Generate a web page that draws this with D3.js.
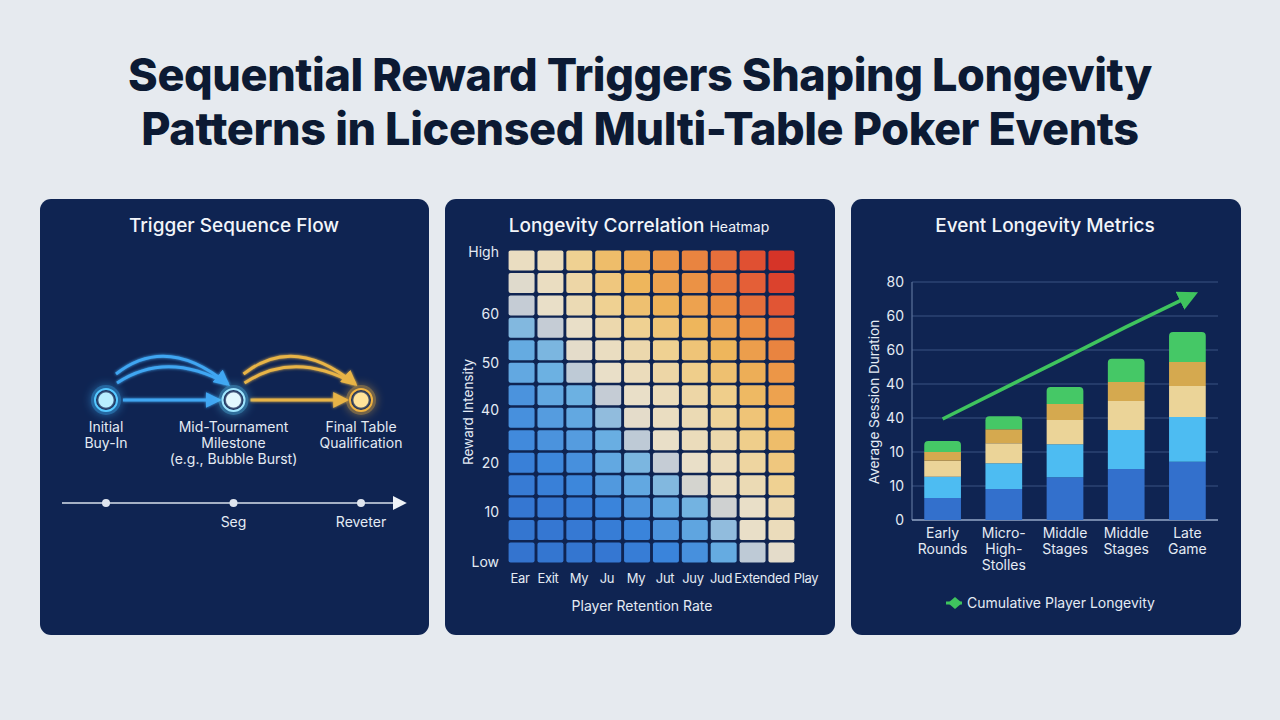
<!DOCTYPE html>
<html><head><meta charset="utf-8">
<script src="https://cdn.jsdelivr.net/npm/d3@7/dist/d3.min.js"></script>
<style>
html,body{margin:0;padding:0;background:#e6eaef;}
svg{display:block;font-family:Inter,"Noto Sans",sans-serif;}
</style></head><body>
<svg id="c" width="1280" height="720"></svg>
<script>
// ---------- DATA ----------
const titleLines = ["Sequential Reward Triggers Shaping Longevity", "Patterns in Licensed Multi-Table Poker Events"];
const panelTitles = ["Trigger Sequence Flow", "Longevity Correlation", "Event Longevity Metrics"];

// Flow panel
const flowSteps = ["Initial Buy-In", "Mid-Tournament Milestone", "Final Table Qualification"];
const flowLabels = [["Initial", "Buy-In"], ["Mid-Tournament", "Milestone", "(e.g., Bubble Burst)"], ["Final Table", "Qualification"]];
const timelineLabels = ["", "Seg", "Reveter"];

// Heatmap
const heatCols = ["Ear", "Exit", "My", "Ju", "My", "Jut", "Juy", "Jud", "Extended", "Play"];
const heatRowsCount = 14;
const heatValues = [
  [55, 56, 62, 68, 73, 78, 82, 86, 92, 98],
  [52, 55, 59, 65, 70, 75, 79, 84, 89, 95],
  [47, 54, 57, 62, 67, 71, 75, 80, 86, 91],
  [38, 47, 54, 58, 62, 66, 70, 75, 80, 86],
  [33, 37, 53, 55, 58, 62, 66, 70, 76, 82],
  [32, 35, 46, 54, 56, 59, 63, 67, 72, 78],
  [25, 32, 35, 47, 54, 56, 59, 63, 69, 75],
  [24, 28, 32, 40, 53, 55, 57, 61, 66, 71],
  [22, 25, 28, 34, 46, 54, 56, 58, 63, 68],
  [18, 21, 24, 32, 37, 47, 54, 56, 60, 65],
  [15, 18, 21, 27, 32, 38, 50, 55, 57, 62],
  [13, 14, 16, 20, 25, 32, 36, 49, 54, 58],
  [12, 13, 14, 16, 20, 25, 31, 40, 54, 56],
  [11, 12, 12, 13, 16, 20, 24, 33, 46, 53]
];
const heatYTickLabels = ["High", "60", "50", "40", "20", "10", "Low"];
const heatYTickLevels = [14, 11.2, 9, 6.85, 4.45, 2.25, 0];
const heatXTitle = "Player Retention Rate";
const heatYTitle = "Reward Intensity";

// Bar chart
const barCategories = [["Early", "Rounds"], ["Micro-", "High-", "Stolles"], ["Middle", "Stages"], ["Middle", "Stages"], ["Late", "Game"]];
const barSeriesNames = ["base", "retained", "engaged", "milestone", "bonus"];
const seriesBase      = [6.5, 9.1, 12.6, 15.0, 17.1];
const seriesRetained  = [6.2, 7.6, 9.7, 11.5, 13.2];
const seriesEngaged   = [4.7, 5.9, 7.1, 8.5, 9.1];
const seriesMilestone = [2.6, 4.1, 4.7, 5.6, 7.1];
const seriesBonus     = [3.2, 3.8, 5.0, 6.8, 8.8];
const trendValues = [29.7, 38.7, 47.7, 56.8, 66.5];
const barTickValues = [0, 10, 20, 30, 40, 50, 60, 70];
const barTickLabels = ["0", "10", "10", "40", "40", "60", "60", "80"];
const barYTitle = "Average Session Duration";
const legendLabel = "Cumulative Player Longevity";

// ---------- DRAW ----------
const svg = d3.select("#c");
const defs = svg.append("defs");
const panelFill = "#0f2452";
const textCol = "#e4ebf4";

// glow filters (user-space regions so flat lines still render)
function makeFilter(id, sd) {
  const f = defs.append("filter").attr("id", id).attr("filterUnits", "userSpaceOnUse")
    .attr("x", 0).attr("y", 0).attr("width", 1280).attr("height", 720);
  f.append("feGaussianBlur").attr("stdDeviation", sd).attr("result", "b");
  const m = f.append("feMerge");
  m.append("feMergeNode").attr("in", "b");
  m.append("feMergeNode").attr("in", "SourceGraphic");
}
makeFilter("glow", 5);
makeFilter("soft", 1.6);

function marker(id, color, size) {
  defs.append("marker").attr("id", id).attr("viewBox", "0 0 10 10").attr("refX", 8).attr("refY", 5)
    .attr("markerWidth", size).attr("markerHeight", size).attr("markerUnits", "userSpaceOnUse").attr("orient", "auto")
    .append("path").attr("d", "M0,0 L10,5 L0,10 Z").attr("fill", color);
}
marker("mBlue", "#3fa6f2", 16);
marker("mGold", "#e8b446", 16);
marker("mWhite", "#eef2f7", 14);
marker("mGreen", "#3fc45e", 20);

// title
svg.append("g").selectAll("text").data(titleLines).join("text")
  .attr("x", 640).attr("y", (d, i) => 91 + i * 54)
  .attr("text-anchor", "middle").attr("font-size", 45).attr("font-weight", 800)
  .attr("fill", "#0c1a33").attr("letter-spacing", -0.4).text(d => d);

// panels
const panels = [{x: 40, y: 199, w: 389, h: 436}, {x: 445, y: 199, w: 390, h: 436}, {x: 851, y: 199, w: 390, h: 436}];
svg.append("g").selectAll("rect").data(panels).join("rect")
  .attr("x", d => d.x).attr("y", d => d.y).attr("width", d => d.w).attr("height", d => d.h)
  .attr("rx", 11).attr("fill", panelFill);

// panel titles
svg.append("text").attr("x", 234).attr("y", 232).attr("text-anchor", "middle").attr("font-size", 19).attr("font-weight", 500).attr("fill", "#f2f5fa").text(panelTitles[0]);
const ht = svg.append("text").attr("x", 639).attr("y", 232).attr("text-anchor", "middle").attr("fill", "#f2f5fa");
ht.append("tspan").attr("font-size", 19).attr("font-weight", 500).text(panelTitles[1] + " ");
ht.append("tspan").attr("font-size", 14).text("Heatmap");
svg.append("text").attr("x", 1045).attr("y", 232).attr("text-anchor", "middle").attr("font-size", 19).attr("font-weight", 500).attr("fill", "#f2f5fa").text(panelTitles[2]);

// ---------- Flow panel ----------
const fx = d3.scalePoint().domain(flowSteps).range([106, 361]);
const nodeY = 400;
const fg = svg.append("g");
const nodeStyles = [
  {ring: "#54c8ff", fill: "#b8efff", glow: "#3fb8ff"},
  {ring: "#9fe6ff", fill: "#e3f9ff", glow: "#59c9f5"},
  {ring: "#f0b340", fill: "#ffe39a", glow: "#f0b340"}
];
const straight = [
  {a: 0, b: 1, col: "#3fa6f2", m: "mBlue"},
  {a: 1, b: 2, col: "#e8b446", m: "mGold"}
];
straight.forEach(s => {
  fg.append("line").attr("x1", fx(flowSteps[s.a]) + 17).attr("x2", fx(flowSteps[s.b]) - 15)
    .attr("y1", nodeY).attr("y2", nodeY).attr("stroke", s.col).attr("stroke-width", 3)
    .attr("marker-end", `url(#${s.m})`).attr("filter", "url(#soft)");
});
straight.forEach(s => {
  const x0 = fx(flowSteps[s.a]), x1 = fx(flowSteps[s.b]);
  const sx = x0 + 10, ex = x1 - 6;
  [{sy: 374, cy: 334}, {sy: 383, cy: 350}].forEach((c, k) => {
    const p = d3.path();
    p.moveTo(sx + k * 1, c.sy);
    p.quadraticCurveTo((sx + ex) / 2 - 5, c.cy, ex, 384);
    fg.append("path").attr("d", p.toString()).attr("fill", "none").attr("stroke", s.col)
      .attr("stroke-width", 3).attr("filter", "url(#soft)")
      .attr("marker-end", k === 0 ? `url(#${s.m})` : null);
  });
});
flowSteps.forEach((s, i) => {
  const st = nodeStyles[i];
  const x = fx(s);
  fg.append("circle").attr("cx", x).attr("cy", nodeY).attr("r", 15).attr("fill", st.glow).attr("opacity", 0.45).attr("filter", "url(#glow)");
  fg.append("circle").attr("cx", x).attr("cy", nodeY).attr("r", 11).attr("fill", panelFill).attr("stroke", st.ring).attr("stroke-width", 2);
  fg.append("circle").attr("cx", x).attr("cy", nodeY).attr("r", 7.5).attr("fill", st.fill).attr("filter", "url(#soft)");
  const t = fg.append("text").attr("text-anchor", "middle").attr("font-size", 14).attr("fill", textCol);
  flowLabels[i].forEach((ln, j) => t.append("tspan").attr("x", x).attr("y", 432 + j * 16).text(ln));
});
const tlY = 503;
fg.append("line").attr("x1", 62).attr("x2", 404).attr("y1", tlY).attr("y2", tlY).attr("stroke", "#d9e1ec").attr("stroke-width", 1.5).attr("marker-end", "url(#mWhite)");
flowSteps.forEach((s, i) => {
  fg.append("circle").attr("cx", fx(s)).attr("cy", tlY).attr("r", 4).attr("fill", "#dfe5ee");
  if (timelineLabels[i]) fg.append("text").attr("x", fx(s)).attr("y", 527).attr("text-anchor", "middle").attr("font-size", 14).attr("fill", textCol).text(timelineLabels[i]);
});

// ---------- Heatmap ----------
const hx = d3.scaleBand().domain(d3.range(heatCols.length)).range([508, 795]).paddingInner(0.1).paddingOuter(0.02);
const hy = d3.scaleBand().domain(d3.range(heatRowsCount)).range([250, 563]).paddingInner(0.11).paddingOuter(0.02);
const hColor = d3.scaleLinear()
  .domain([0, 20, 35, 47, 54, 62, 70, 80, 90, 100])
  .range(["#2c60c0", "#3a84db", "#6cb1e2", "#c5ccd5", "#e9dfc8", "#efd192", "#eeb65c", "#eb8e42", "#e35a36", "#d32a24"])
  .interpolate(d3.interpolateRgb).clamp(true);
const hg = svg.append("g");
heatValues.forEach((row, r) => {
  hg.selectAll(null).data(row).join("rect")
    .attr("x", (d, c) => hx(c)).attr("y", hy(r))
    .attr("width", hx.bandwidth()).attr("height", hy.bandwidth())
    .attr("rx", 2).attr("fill", d => hColor(d));
});
const hLevel = d3.scaleLinear().domain([0, heatRowsCount]).range([562, 252]);
hg.selectAll(".yt").data(heatYTickLabels).join("text")
  .attr("x", 499).attr("y", (d, i) => hLevel(heatYTickLevels[i]) + 5)
  .attr("text-anchor", "end").attr("font-size", 14).attr("fill", textCol).text(d => d);
const hxLabelX = [520, 548, 579, 607, 636, 665, 693, 721, 762, 806];
hg.selectAll(".xt").data(heatCols).join("text")
  .attr("x", (d, i) => hxLabelX[i]).attr("y", 583)
  .attr("text-anchor", "middle").attr("font-size", 13).attr("letter-spacing", -0.3).attr("fill", textCol).text(d => d);
hg.append("text").attr("x", 642).attr("y", 611).attr("text-anchor", "middle").attr("font-size", 14).attr("fill", textCol).text(heatXTitle);
hg.append("text").attr("transform", "translate(473,412) rotate(-90)").attr("text-anchor", "middle").attr("font-size", 13.5).attr("fill", textCol).text(heatYTitle);

// ---------- Bar chart ----------
const bx = d3.scaleBand().domain(d3.range(barCategories.length)).range([912, 1218]).paddingInner(0.4).paddingOuter(0.2);
const by = d3.scaleLinear().domain([0, 70]).range([520, 282]);
const bg = svg.append("g");
bg.selectAll(".grid").data(barTickValues).join("line")
  .attr("x1", 912).attr("x2", 1218).attr("y1", d => by(d)).attr("y2", d => by(d))
  .attr("stroke", "#3a5282").attr("stroke-width", 1.2);
bg.append("line").attr("x1", 912).attr("x2", 912).attr("y1", by(70)).attr("y2", by(0)).attr("stroke", "#5c739c").attr("stroke-width", 1.2);
bg.append("line").attr("x1", 912).attr("x2", 1218).attr("y1", by(0)).attr("y2", by(0)).attr("stroke", "#8da0c0").attr("stroke-width", 1.5);
bg.selectAll(".ytl").data(barTickValues).join("text")
  .attr("x", 904).attr("y", d => by(d) + 5).attr("text-anchor", "end").attr("font-size", 14).attr("fill", textCol)
  .text((d, i) => barTickLabels[i]);

const seriesData = [seriesBase, seriesRetained, seriesEngaged, seriesMilestone, seriesBonus];
const seriesColors = ["#3370cc", "#4dbcf2", "#ebd498", "#d5a94f", "#45c866"];
const table = barCategories.map((c, i) => {
  const o = {i};
  barSeriesNames.forEach((n, k) => o[n] = seriesData[k][i]);
  return o;
});
const stack = d3.stack().keys(barSeriesNames)(table);
stack.forEach((layer, k) => {
  bg.selectAll(null).data(layer).join("path")
    .attr("fill", seriesColors[k])
    .attr("d", d => {
      const x0 = bx(d.data.i), w = bx.bandwidth();
      const y0 = by(d[0]), y1 = by(d[1]);
      if (k === stack.length - 1) {
        const r = 4;
        return `M${x0},${y0}L${x0},${y1 + r}Q${x0},${y1} ${x0 + r},${y1}L${x0 + w - r},${y1}Q${x0 + w},${y1} ${x0 + w},${y1 + r}L${x0 + w},${y0}Z`;
      }
      return `M${x0},${y0}L${x0},${y1}L${x0 + w},${y1}L${x0 + w},${y0}Z`;
    });
});
barCategories.forEach((lines, i) => {
  const t = bg.append("text").attr("text-anchor", "middle").attr("font-size", 14).attr("fill", textCol);
  lines.forEach((ln, j) => t.append("tspan").attr("x", bx(i) + bx.bandwidth() / 2).attr("y", 538 + j * 16).text(ln));
});
const trendLine = d3.line().x((d, i) => bx(i) + bx.bandwidth() / 2 + (i === trendValues.length - 1 ? 7 : 0)).y(d => by(d));
bg.append("path").attr("d", trendLine(trendValues)).attr("fill", "none").attr("stroke", "#3fc45e")
  .attr("stroke-width", 3.5).attr("marker-end", "url(#mGreen)");
bg.append("text").attr("transform", "translate(879,402) rotate(-90)").attr("text-anchor", "middle").attr("font-size", 13.5).attr("fill", textCol).text(barYTitle);
bg.append("line").attr("x1", 946).attr("x2", 962).attr("y1", 603).attr("y2", 603).attr("stroke", "#3fc45e").attr("stroke-width", 3);
bg.append("path").attr("d", "M948,603 L955,597 L962,603 L955,609 Z").attr("fill", "#3fc45e");
bg.append("text").attr("x", 967).attr("y", 608).attr("font-size", 14).attr("fill", textCol).text(legendLabel);
</script>
</body></html>
